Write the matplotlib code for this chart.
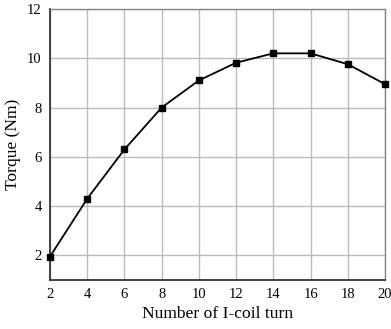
import matplotlib
matplotlib.use("Agg")
import matplotlib.pyplot as plt

turns = [2, 4, 6, 8, 10, 12, 14, 16, 18, 20]
torque = [1.95, 4.3, 6.3, 8.0, 9.1, 9.82, 10.2, 10.2, 9.76, 8.95]
xticks = [2, 4, 6, 8, 10, 12, 14, 16, 18, 20]
yticks = [2, 4, 6, 8, 10, 12]

plt.rcParams['font.family'] = ['Liberation Serif', 'DejaVu Serif']
fig = plt.figure(figsize=(3.91, 3.29), dpi=100)
ax = fig.add_axes([50/391, 1 - 280/329, 335/391, 271/329])
ax.plot(turns, torque, color='black', lw=1.3, marker='s', ms=4.5, zorder=3, clip_on=False)
ax.set_xlim(2, 20)
ax.set_ylim(1, 12)
ax.set_xticks(xticks)
ax.set_yticks(yticks)
ax.grid(True, color='#bbbbbb', lw=1.0)
ax.tick_params(length=0, labelsize=10.5, pad=6)
for s in ['left', 'bottom']:
    ax.spines[s].set_color('#333333')
    ax.spines[s].set_linewidth(1.3)
for s in ['top', 'right']:
    ax.spines[s].set_color('#888888')
    ax.spines[s].set_linewidth(1.0)
ax.set_xlabel('Number of I-coil turn', fontsize=12.6, labelpad=3)
ax.set_ylabel('Torque (Nm)', fontsize=12.6, labelpad=4)
fig.savefig('out.png', dpi=100)
